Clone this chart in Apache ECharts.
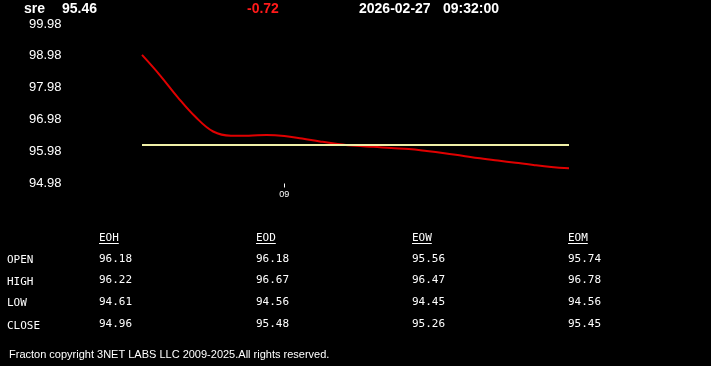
<!DOCTYPE html>
<html>
<head>
<meta charset="utf-8">
<script src="https://cdn.jsdelivr.net/npm/echarts@6/dist/echarts.min.js"></script>
<style>html,body{margin:0;padding:0;background:#000;}#c{width:711px;height:366px;}</style>
</head>
<body>
<div id="c"></div>
<script>
// ---- data ----
var symbol = 'sre';
var lastPrice = '95.46';
var change = '-0.72';
var dateText = '2026-02-27';
var timeText = '09:32:00';
var prevClose = 96.18;
var timeCategories = ['', '', '', '', '', '', '', '', '09', '', '', '', '', '', '', '', '', '', '', '', '', '', '', '', ''];
var priceValues = [99.01, 98.38, 97.69, 97.07, 96.61, 96.48, 96.48, 96.50, 96.47, 96.39, 96.30, 96.22, 96.16,
                   96.13, 96.09, 96.06, 96.00, 95.93, 95.85, 95.77, 95.70, 95.63, 95.56, 95.50, 95.46];
var yTickLabels = [94.98, 95.98, 96.98, 97.98, 98.98, 99.98];
var rowLabels = ['OPEN', 'HIGH', 'LOW', 'CLOSE'];
var colHeaders = ['EOH', 'EOD', 'EOW', 'EOM'];
var eohValues = ['96.18', '96.22', '94.61', '94.96'];
var eodValues = ['96.18', '96.67', '94.56', '95.48'];
var eowValues = ['95.56', '96.47', '94.45', '95.26'];
var eomValues = ['95.74', '96.78', '94.56', '95.45'];
var footerText = 'Fracton copyright 3NET LABS LLC 2009-2025.All rights reserved.';

var tableCols = [eohValues, eodValues, eowValues, eomValues];

var chart = echarts.init(document.getElementById('c'));

var colX = [99, 256, 412, 568];
var rowY = [259, 280.5, 302, 324.5];
var mono = '"DejaVu Sans Mono", "Liberation Mono", monospace';
var sans = '"Liberation Sans", Arial, sans-serif';

var graphics = [];
function txt(x, y, s, opts) {
  graphics.push({
    type: 'text', x: x, y: y, silent: true,
    style: Object.assign({
      text: s, fill: '#ffffff', font: '11px ' + mono,
      textAlign: 'left', textVerticalAlign: 'middle'
    }, opts || {})
  });
}
// header
txt(24, 9, symbol, {font: 'bold 14px ' + sans});
txt(62, 9, lastPrice, {font: 'bold 14px ' + sans});
txt(247, 9, change, {font: 'bold 14px ' + sans, fill: '#ff1a1a'});
txt(359, 9, dateText, {font: 'bold 14px ' + sans});
txt(443, 9, timeText, {font: 'bold 14px ' + sans});
// table
colHeaders.forEach(function (h, ci) {
  txt(colX[ci], 238, h, {fill: '#ffffff'});
  graphics.push({
    type: 'line', silent: true,
    shape: {x1: colX[ci], y1: 243.5, x2: colX[ci] + h.length * 6.6, y2: 243.5},
    style: {stroke: '#ffffff', lineWidth: 1}
  });
});
rowLabels.forEach(function (r, ri) {
  txt(7, rowY[ri] + 1.5, r);
  tableCols.forEach(function (col, ci) {
    txt(colX[ci], rowY[ri], col[ri]);
  });
});
// footer
txt(9, 355, footerText, {font: '11px ' + sans, fill: '#ffffff'});

chart.setOption({
  backgroundColor: '#000000',
  animation: false,
  grid: {left: 142, right: 142, top: 24, bottom: 182.5, containLabel: false},
  xAxis: {
    type: 'category',
    boundaryGap: false,
    data: timeCategories,
    axisLine: {show: false},
    axisTick: {
      show: true, length: 4, inside: false,
      interval: function (idx, val) { return val !== ''; },
      lineStyle: {color: '#ffffff', width: 1}
    },
    axisLabel: {
      show: true, color: '#ffffff', fontSize: 9, fontFamily: sans, margin: 7,
      interval: function (idx, val) { return val !== ''; }
    },
    splitLine: {show: false}
  },
  yAxis: {
    type: 'value',
    min: 94.98,
    max: 99.98,
    axisLine: {show: false},
    axisTick: {show: false},
    splitLine: {show: false},
    axisLabel: {
      customValues: yTickLabels,
      color: '#ffffff', fontSize: 13, fontFamily: sans,
      align: 'left', margin: 113,
      showMinLabel: true, showMaxLabel: true,
      formatter: function (v) { return v.toFixed(2); }
    }
  },
  series: [{
    type: 'line',
    data: priceValues,
    smooth: 0.4,
    showSymbol: false,
    lineStyle: {color: '#e00000', width: 2},
    markLine: {
      silent: true,
      symbol: 'none',
      label: {show: false},
      lineStyle: {color: '#f0f0a8', width: 2, type: 'solid'},
      data: [{yAxis: prevClose}]
    },
    z: 3
  }],
  graphic: graphics
});
</script>
</body>
</html>
